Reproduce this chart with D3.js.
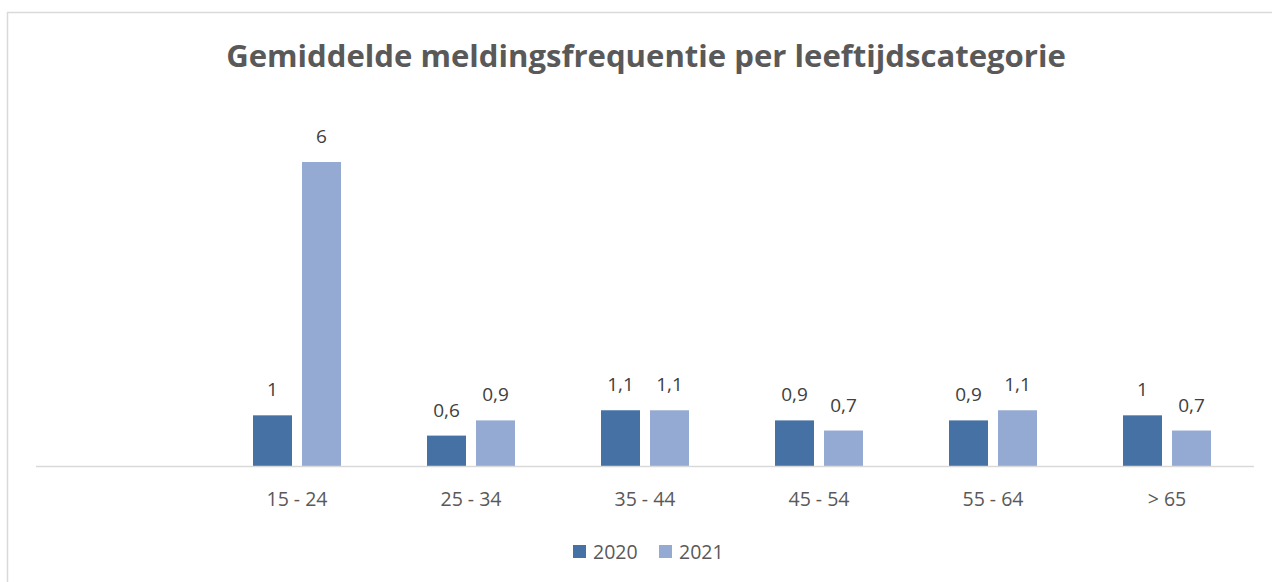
<!DOCTYPE html>
<html><head><meta charset="utf-8">
<script src="https://cdn.jsdelivr.net/npm/d3@7"></script>
<style>body{margin:0;background:#fff}svg{display:block}</style>
</head><body>
<script>
const categories = ["", "15 - 24", "25 - 34", "35 - 44", "45 - 54", "55 - 64", "> 65"];
const seriesNames = ["2020", "2021"];
const values2020 = [null, 1, 0.6, 1.1, 0.9, 0.9, 1];
const values2021 = [null, 6, 0.9, 1.1, 0.7, 1.1, 0.7];
const colors = ["#4571A5", "#95AAD2"];
const title = "Gemiddelde meldingsfrequentie per leeftijdscategorie";

const W = 1272, H = 582;
const svg = d3.select("body").append("svg").attr("width", W).attr("height", H);
svg.append("rect").attr("x", 7.5).attr("y", 12.5).attr("width", W).attr("height", H)
  .attr("fill", "#fff").attr("stroke", "#d9d9d9").attr("stroke-width", 1.5);

const font = "Open Sans, Liberation Sans, sans-serif";
const t = svg.append("text").attr("x", 646).attr("y", 67).attr("text-anchor", "middle")
  .attr("font-family", font).attr("font-weight", "bold").attr("font-size", 30)
  .attr("fill", "#595959").text(title);
const len = t.node().getComputedTextLength();
t.attr("font-size", 30 * 840 / len);

const x = d3.scaleBand().domain(categories).range([36, 1254]).paddingInner(0).paddingOuter(0);
const y = d3.scaleLinear().domain([0, 6]).range([466, 162]);
const inner = d3.scaleBand().domain(seriesNames).range([0, 88]).paddingInner(10/49).paddingOuter(0);

const series = [values2020, values2021];
series.forEach((vals, si) => {
  const g = svg.append("g");
  categories.forEach((c, i) => {
    const v = vals[i];
    if (v == null) return;
    const bx = x(c) + x.bandwidth()/2 - 44 + inner(seriesNames[si]);
    g.append("rect").attr("x", bx).attr("y", y(v)).attr("width", inner.bandwidth())
      .attr("height", y(0) - y(v)).attr("fill", colors[si]);
    g.append("text").attr("x", bx + inner.bandwidth()/2).attr("y", y(v) - 19)
      .attr("text-anchor", "middle").attr("font-family", font).attr("font-size", 19)
      .attr("fill", "#404040").text(String(v).replace(".", ","));
  });
});

const axis = svg.append("g").attr("transform", "translate(0,466.5)")
  .call(d3.axisBottom(x).tickSize(0).tickPadding(0));
axis.select(".domain").attr("stroke", "#d9d9d9").attr("stroke-width", 1.5).attr("d", "M36,0H1254");
axis.selectAll(".tick text").attr("font-family", font).attr("font-size", 19.5)
  .attr("fill", "#595959").attr("dy", 0).attr("y", 39);

const leg = svg.append("g");
const legX = [573, 659];
seriesNames.forEach((n, i) => {
  leg.append("rect").attr("x", legX[i]).attr("y", 545).attr("width", 13).attr("height", 13).attr("fill", colors[i]);
  leg.append("text").attr("x", legX[i] + 20).attr("y", 559).attr("font-family", font)
    .attr("font-size", 19.5).attr("fill", "#595959").text(n);
});
</script>
</body></html>
